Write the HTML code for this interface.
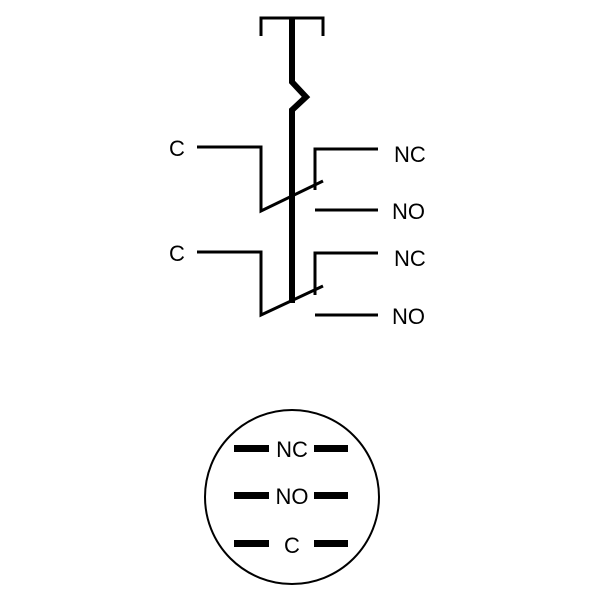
<!DOCTYPE html>
<html><head><meta charset="utf-8"><style>body{margin:0;background:#fff}svg{display:block}</style></head>
<body>
<svg width="600" height="600" viewBox="0 0 600 600" xmlns="http://www.w3.org/2000/svg">
<g fill="none" stroke="#000" stroke-width="3">
<polyline points="261,36 261,18 323,18 323,36"/>
<polyline points="197,147 261,147 261,211 323,181"/>
<polyline points="315,190 315,149 378,149"/>
<line x1="315" y1="210" x2="378" y2="210"/>
<polyline points="197,252 261,252 261,315 323,286"/>
<polyline points="315,295 315,253 378,253"/>
<line x1="315" y1="315" x2="378" y2="315"/>
<circle cx="292" cy="497" r="87" stroke-width="2"/>
</g>
<polyline points="292,17 292,82 306,97 292,110 292,303" fill="none" stroke="#000" stroke-width="6"/>
<g fill="#000">
<rect x="234" y="445" width="35" height="7"/><rect x="314" y="445" width="34" height="7"/>
<rect x="234" y="492" width="35" height="7"/><rect x="314" y="492" width="34" height="7"/>
<rect x="234" y="540" width="35" height="7"/><rect x="314" y="540" width="34" height="7"/>
</g>
<g font-family="'Liberation Sans',sans-serif" font-size="22" fill="#000">
<text x="169" y="156">C</text>
<text x="169" y="261">C</text>
<text x="394" y="162">NC</text>
<text x="392" y="219">NO</text>
<text x="394" y="266">NC</text>
<text x="392" y="324">NO</text>
<text x="292" y="457" text-anchor="middle">NC</text>
<text x="292" y="504" text-anchor="middle">NO</text>
<text x="292" y="553" text-anchor="middle">C</text>
</g>
</svg>
</body></html>
